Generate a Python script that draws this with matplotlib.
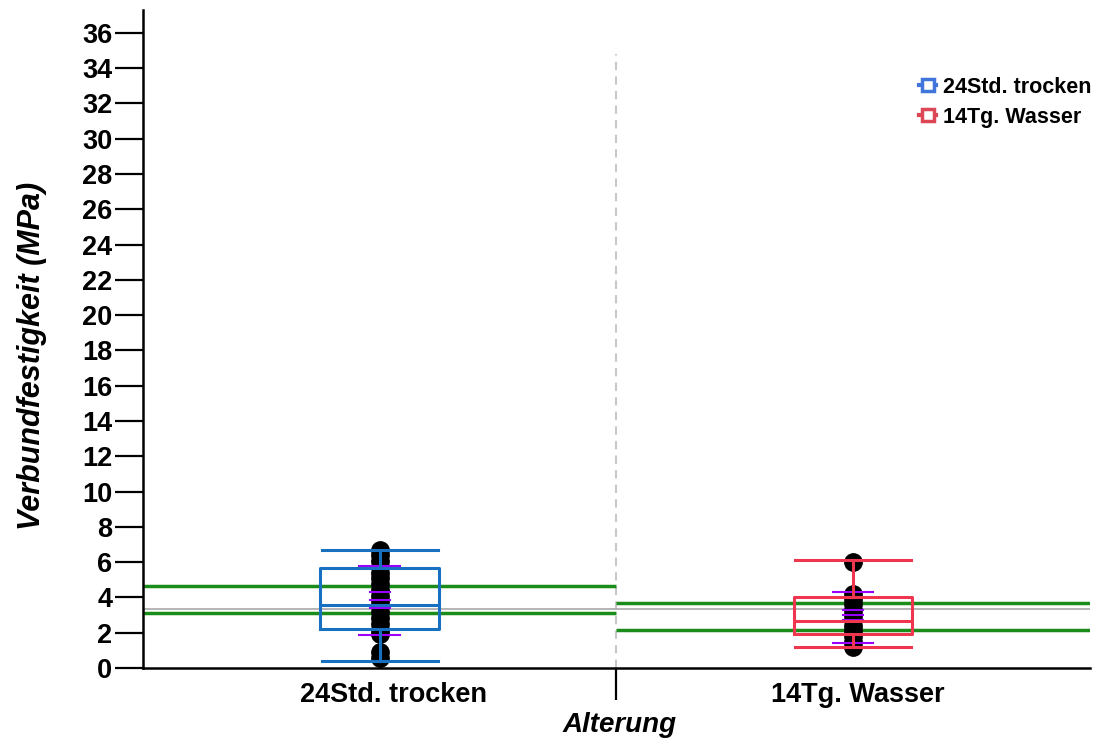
import numpy as np
import matplotlib.pyplot as plt
from matplotlib.lines import Line2D

plt.rcParams['font.family'] = ['Liberation Sans', 'DejaVu Sans']

# groups and box statistics (MPa)
groups = ['24Std. trocken', '14Tg. Wasser']
box_color = ['#1870c0', '#f0364e']
legend_color = ['#4275dc', '#dc4655']
whisker_low = [0.4, 1.2]
q1 = [2.21, 1.93]
median = [3.57, 2.66]
q3 = [5.67, 4.02]
whisker_high = [6.7, 6.1]

# individual measurements
points = [
    [0.55, 0.9, 1.9, 2.15, 2.5, 2.85, 3.2, 3.5, 3.8, 4.1, 4.4, 4.75, 5.1, 5.4, 5.7, 6.05, 6.4, 6.7],
    [1.2, 1.5, 1.8, 2.1, 2.4, 2.7, 3.0, 3.3, 3.6, 3.9, 4.2, 6.0],
]

# mean marks: long = mean +/- SD, short = mean and mean +/- SE
sd_marks = [[5.78, 1.87], [4.31, 1.42]]
se_marks = [[4.31, 3.85, 3.40], [3.29, 3.0, 2.71]]

# green reference band per group, grey overall reference
green_lines = [[4.65, 3.12], [3.68, 2.15]]
grand_ref = 3.37

fig = plt.figure(figsize=(10.93, 7.39), dpi=100)
ax = fig.add_axes([0.1308, 0.0961, 0.8662, 0.8904])

pos = [0.5, 1.5]
stats = []
for i in range(2):
    stats.append(dict(med=median[i], q1=q1[i], q3=q3[i],
                      whislo=whisker_low[i], whishi=whisker_high[i], fliers=[]))

ax.axhline(grand_ref, color='#a8a8a8', lw=1.2, zorder=1)
for i in range(2):
    for g in green_lines[i]:
        ax.hlines(g, i, i + 1, color='#1a8c1a', lw=2.5, zorder=2)

for i in range(2):
    ax.plot([pos[i]] * len(points[i]), points[i], 'o', color='black',
            ms=12.5, zorder=3)
    ax.hlines(sd_marks[i], pos[i] - 0.045, pos[i] + 0.045, color='#9b00ff',
              lw=1.5, zorder=4)
    ax.hlines(se_marks[i], pos[i] - 0.023, pos[i] + 0.023, color='#9b00ff',
              lw=1.5, zorder=4)
    c = box_color[i]
    props = dict(color=c, linewidth=2.2)
    ax.bxp([stats[i]], positions=[pos[i]], widths=0.25, showfliers=False,
           boxprops=props, whiskerprops=props, medianprops=props,
           capprops=props, capwidths=0.245, manage_ticks=False, zorder=5)

ax.axvline(1.0, ymax=34.8 / 37.3, color='#c8c8c8', lw=1.5, ls=(0, (4, 3)),
           zorder=0)

ax.set_xlim(0, 2)
ax.set_ylim(0, 37.3)

ax.set_yticks(np.arange(0, 37, 2))
ax.tick_params(axis='y', direction='out', length=20, width=1.6, pad=2,
               labelsize=19.5)
for lab in ax.get_yticklabels():
    lab.set_fontweight('bold')

ax.set_xticks([0.53, 1.51])
ax.set_xticklabels(groups, fontsize=19.5, fontweight='bold')
ax.tick_params(axis='x', which='major', length=0, pad=10)
ax.set_xticks([1.0], minor=True)
ax.tick_params(axis='x', which='minor', direction='out', length=23, width=1.6)

for s in ['top', 'right']:
    ax.spines[s].set_visible(False)
for s in ['left', 'bottom']:
    ax.spines[s].set_linewidth(1.8)

ax.set_ylabel('Verbundfestigkeit (MPa)', fontsize=22, fontweight='bold',
              fontstyle='italic')
ax.yaxis.set_label_coords(-0.101, 0.474)
ax.set_xlabel('Alterung', fontsize=20, fontweight='bold', fontstyle='italic')
ax.xaxis.set_label_coords(0.503, -0.067)
ax.xaxis.label.set_va('top')

handles = [Line2D([], [], color=legend_color[i], lw=3, marker='s', ms=8,
                  mfc='white', mec=legend_color[i], mew=2.5)
           for i in range(2)]
ax.legend(handles, groups, loc='upper right', bbox_to_anchor=(1.022, 0.928),
          frameon=False, handlelength=0.8, handletextpad=0.3,
          prop=dict(weight='bold', size=15.5), labelspacing=0.42)

fig.savefig('out.png', dpi=100)
